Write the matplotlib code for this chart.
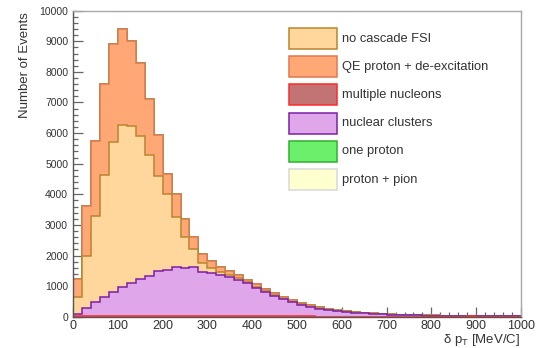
import numpy as np
import matplotlib
matplotlib.use("Agg")
import matplotlib.pyplot as plt
from matplotlib.patches import Rectangle

plt.rcParams["font.family"] = ["Liberation Sans", "DejaVu Sans"]
plt.rcParams["mathtext.fontset"] = "custom"
plt.rcParams["mathtext.rm"] = "Liberation Sans"
plt.rcParams["mathtext.it"] = "Liberation Sans:italic"

# delta p_T binning: 50 bins of 20 MeV/c from 0 to 1000
bin_edges = np.arange(0, 1001, 20)

# events per bin for each final-state category
multiple_nucleons = [10, 20, 25, 30, 30, 35, 35, 35, 35, 35,
                     35, 35, 35, 35, 30, 30, 30, 25, 25, 25,
                     20, 20, 20, 15, 15, 10, 10, 5, 5, 5,
                     5, 5, 5, 5, 5, 0, 0, 0, 0, 0,
                     0, 0, 0, 0, 10, 0, 0, 0, 0, 0]
nuclear_clusters = [80, 260, 445, 600, 770, 925, 1065, 1195, 1305, 1445,
                    1475, 1585, 1555, 1585, 1430, 1390, 1340, 1275, 1175, 1065,
                    930, 800, 660, 555, 455, 370, 300, 250, 210, 180,
                    150, 125, 100, 83, 70, 65, 58, 50, 43, 38,
                    33, 30, 27, 26, 12, 22, 18, 18, 17, 13]
no_cascade_fsi = [540, 1710, 2810, 4010, 4900, 5310, 5120, 4690, 3950, 3120,
                  2500, 1630, 1010, 600, 300, 160, 80, 60, 50, 30,
                  30, 20, 20, 20, 20, 20, 20, 15, 15, 15,
                  15, 10, 10, 7, 5, 5, 4, 2, 2, 2,
                  2, 2, 1, 2, 1, 1, 1, 1, 1, 1]
qe_proton_deexc = [600, 1640, 2470, 2960, 3200, 3130, 2780, 2360, 1810, 1350,
                   650, 750, 590, 380, 290, 230, 170, 140, 110, 80,
                   80, 60, 80, 60, 70, 60, 50, 40, 30, 30,
                   30, 20, 15, 15, 10, 10, 8, 8, 5, 5,
                   5, 3, 2, 2, 2, 2, 1, 1, 1, 1]
one_proton = [0] * 50
proton_pion = [0] * 50

# stacking order from the bottom up, with legend labels and colours
components = [
    ("multiple nucleons", multiple_nucleons, "#C27373", "#FF2A2A"),
    ("nuclear clusters", nuclear_clusters, "#E0A6EA", "#7D1FA5"),
    ("no cascade FSI", no_cascade_fsi, "#FFD79C", "#B8862E"),
    ("QE proton + de-excitation", qe_proton_deexc, "#FFA876", "#E0784E"),
    ("one proton", one_proton, "#6CF06C", "#2FAF2F"),
    ("proton + pion", proton_pion, "#FFFFD0", "#D8D8D8"),
]
legend_order = ["no cascade FSI", "QE proton + de-excitation", "multiple nucleons",
                "nuclear clusters", "one proton", "proton + pion"]

W, H = 543, 348
fig = plt.figure(figsize=(W / 100, H / 100), dpi=100)
ax = fig.add_axes([73 / W, 1 - 316.7 / H, (521 - 73) / W, (316.7 - 10.7) / H])

cumulative = np.cumsum([np.asarray(c[1], float) for c in components], axis=0)
# draw the running sums from the top layer down so lower layers cover upper ones
for i in range(len(components) - 1, -1, -1):
    name, _, fill, edge = components[i]
    ax.stairs(cumulative[i], bin_edges, baseline=0, fill=True, color=fill, lw=0, zorder=2)
    ax.stairs(cumulative[i], bin_edges, baseline=0, fill=False, color=edge, lw=1.1, zorder=2)

ax.set_xlim(0, 1000)
ax.set_ylim(0, 10000)
ax.set_xticks(np.arange(0, 1001, 100))
ax.set_xticks(np.arange(0, 1001, 20), minor=True)
ax.set_yticks(np.arange(0, 10001, 1000))
ax.set_yticks(np.arange(0, 10001, 200), minor=True)
ax.tick_params(axis="both", which="both", direction="in", color="#666666", width=0.9)
ax.tick_params(axis="both", which="major", length=7)
ax.tick_params(axis="both", which="minor", length=3.5)
ax.tick_params(axis="x", labelsize=9, pad=2.5, labelcolor="#333333")
ax.tick_params(axis="y", labelsize=7.5, pad=3.5, labelcolor="#333333")
for side in ("left", "bottom"):
    ax.spines[side].set_color("#555555")
    ax.spines[side].set_linewidth(1.0)
for side in ("top", "right"):
    ax.spines[side].set_color("#A8A8A8")
    ax.spines[side].set_linewidth(1.0)
for sp in ax.spines.values():
    sp.set_zorder(5)

fig.text(25 / W, 1 - 12 / H, "Number of Events", rotation=90, ha="center", va="top",
         fontsize=9.5, color="#333333")
fig.text(520 / W, 1 - 340 / H, r"δ p$_{\mathrm{T}}$ [MeV/C]", ha="right", va="center",
         fontsize=9.5, color="#333333")

# legend boxes
lookup = {c[0]: c for c in components}
box_x, box_w, box_h = 288.5, 48, 21
for k, name in enumerate(legend_order):
    _, _, fill, edge = lookup[name]
    yc = 38.5 + k * 28.2
    fig.add_artist(Rectangle((box_x / W, 1 - (yc + box_h / 2) / H), box_w / W, box_h / H,
                             transform=fig.transFigure, facecolor=fill, edgecolor=edge, lw=1.1))
    fig.text(342.5 / W, 1 - yc / H, name, ha="left", va="center", fontsize=9.3, color="#333333")

fig.savefig("out.png", dpi=100)
